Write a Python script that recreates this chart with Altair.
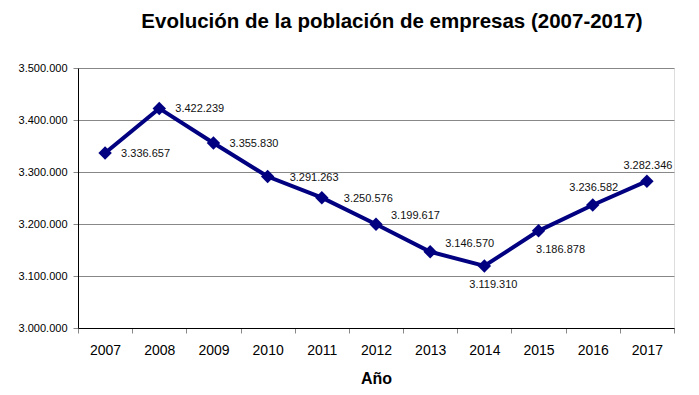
import altair as alt
import pandas as pd

years = ["2007", "2008", "2009", "2010", "2011", "2012", "2013", "2014", "2015", "2016", "2017"]
companies = [3336657, 3422239, 3355830, 3291263, 3250576, 3199617, 3146570, 3119310, 3186878, 3236582, 3282346]

df = pd.DataFrame({"year": years, "value": companies})

FONT = "Liberation Sans"
NAVY = "#000080"

x = alt.X("year:N", sort=years, title="Año",
          scale=alt.Scale(paddingInner=0, paddingOuter=0),
          axis=alt.Axis(labelAngle=0, labelFontSize=14, labelColor="#000", labelFont=FONT,
                        labelPadding=10, tickBand="extent", tickColor="#888", tickSize=5,
                        domainColor="#000", titleFontSize=16, titleFont=FONT, titleFontWeight="bold",
                        titleColor="#000", titlePadding=13, grid=False))
y = alt.Y("value:Q", title=None,
          scale=alt.Scale(domain=[3000000, 3500000], nice=False, zero=False),
          axis=alt.Axis(values=[3000000, 3100000, 3200000, 3300000, 3400000, 3500000],
                        format=",d", labelFontSize=11, labelFont=FONT, labelColor="#000",
                        tickColor="#888", tickSize=5, labelPadding=6, domainColor="#000",
                        gridColor="#888", gridWidth=1))

base = alt.Chart(df).encode(x=x, y=y)

line = base.mark_line(color=NAVY, strokeWidth=4)
points = base.mark_point(shape="diamond", filled=True, color=NAVY, size=180, opacity=1)

placements = [
    (["2007", "2008", "2009"], "left", 16, 1),
    (["2010", "2011"], "left", 22, 1),
    (["2012", "2013"], "left", 15, -8),
    (["2014"], "center", 9, 19),
    (["2015"], "center", 22, 19),
    (["2016"], "center", 1, -17),
    (["2017"], "center", 1, -15),
]
label_layers = []
for ys, al, dx, dy in placements:
    label_layers.append(
        base.mark_text(align=al, baseline="middle", dx=dx, dy=dy, fontSize=11, font=FONT, color="#111")
        .encode(text=alt.Text("value:Q", format=",d"))
        .transform_filter(alt.FieldOneOfPredicate(field="year", oneOf=ys))
    )

chart = alt.layer(line, points, *label_layers).properties(
    width=596, height=260,
    autosize=alt.AutoSizeParams(type="none"),
    padding={"left": 70, "top": 60, "right": 17, "bottom": 59},
    title=alt.TitleParams("Evolución de la población de empresas (2007-2017)",
                          font=FONT, fontSize=20.5, fontWeight="bold", color="#000",
                          anchor="middle", dx=16, offset=10, baseline="bottom", frame="group"),
).configure_view(stroke=None).configure(
    locale=alt.Locale(number=alt.NumberLocale(decimal=",", thousands=".", grouping=[3], currency=["", " €"]))
)

chart.save("out.html", embed_options={"renderer": "svg", "actions": False})
